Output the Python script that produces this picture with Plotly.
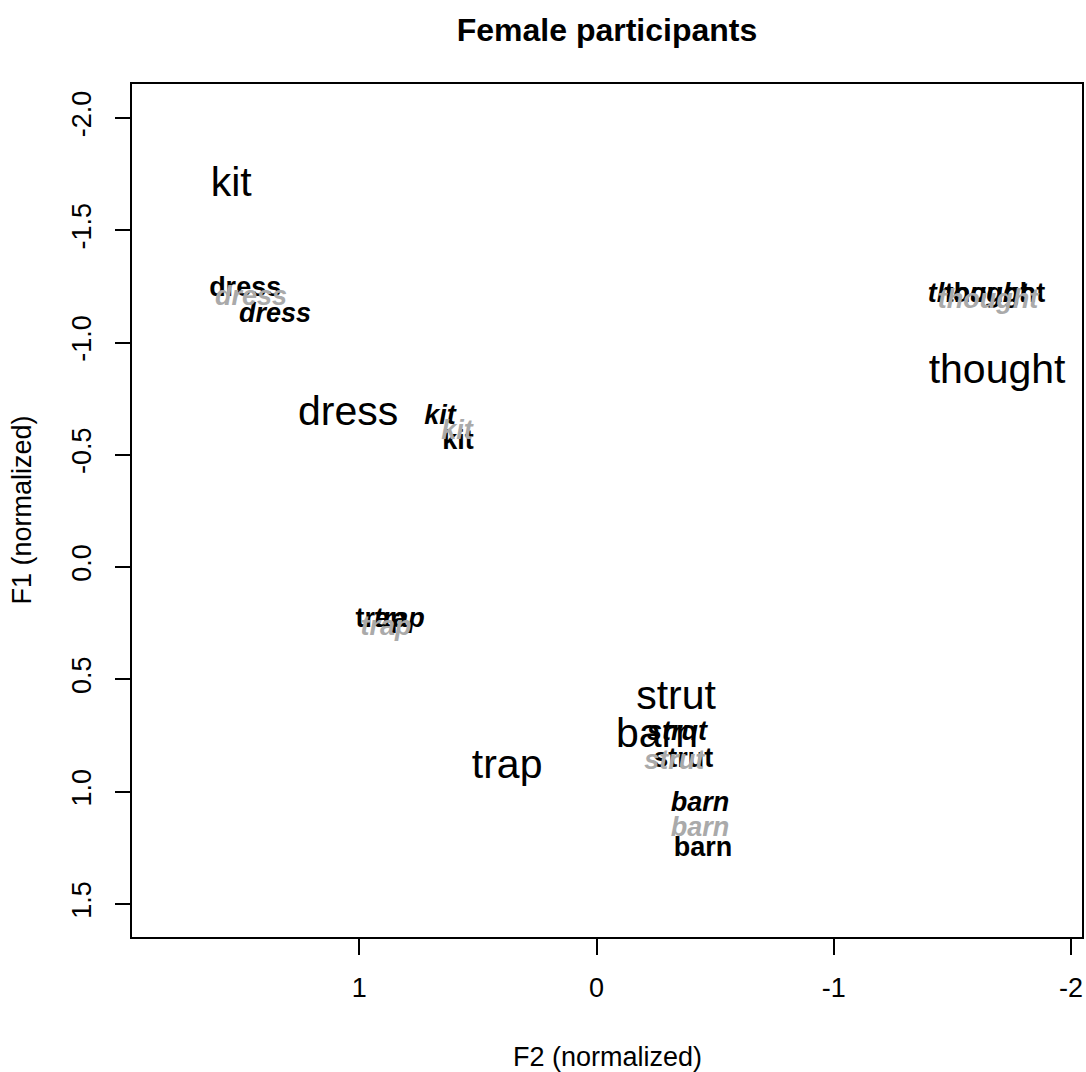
import plotly.graph_objects as go

# ---- data ----
vowels = ["kit", "dress", "trap", "strut", "barn", "thought"]

# large plain labels
plain_f2 = [1.540, 1.047, 0.377, -0.335, -0.255, -1.688]
plain_f1 = [-1.700, -0.678, 0.894, 0.587, 0.754, -0.867]

# black bold labels
bold_f2 = [0.584, 1.481, 0.908, -0.365, -0.449, -1.679]
bold_f1 = [-0.557, -1.236, 0.235, 0.859, 1.255, -1.212]

# black bold italic labels
bital_f2 = [0.660, 1.355, 0.832, -0.339, -0.436, -1.608]
bital_f1 = [-0.669, -1.121, 0.235, 0.738, 1.054, -1.212]

# grey bold italic labels
gital_f2 = [0.588, 1.456, 0.887, -0.327, -0.436, -1.650]
gital_f1 = [-0.602, -1.198, 0.271, 0.867, 1.166, -1.185]

x_ticks = [1, 0, -1, -2]
x_tick_text = ["1", "0", "-1", "-2"]
y_ticks = [-2.0, -1.5, -1.0, -0.5, 0.0, 0.5, 1.0, 1.5]
y_tick_text = ["-2.0", "-1.5", "-1.0", "-0.5", "0.0", "0.5", "1.0", "1.5"]

FONT = "Liberation Sans, Arial, Helvetica, sans-serif"
GREY = "#AAAAAA"

fig = go.Figure()


def add_labels(xs, ys, size, color, weight, style):
    fig.add_trace(go.Scatter(
        x=xs, y=ys, text=vowels, mode="text",
        textposition="middle center",
        textfont=dict(family=FONT, size=size, color=color, weight=weight, style=style),
        hoverinfo="skip", showlegend=False,
    ))


add_labels(plain_f2, plain_f1, 41, "black", "normal", "normal")
add_labels(bold_f2, bold_f1, 27, "black", "bold", "normal")
add_labels(bital_f2, bital_f1, 27, "black", "bold", "italic")
add_labels(gital_f2, gital_f1, 27, GREY, "bold", "italic")

W, H = 1086, 1072
L, R, T, B = 132, 4, 84, 135

fig.update_layout(
    width=W, height=H,
    margin=dict(l=L, r=R, t=T, b=B, pad=0),
    paper_bgcolor="white", plot_bgcolor="white",
    font=dict(family=FONT, size=27, color="black"),
    title=dict(text="<b>Female participants</b>", x=0.5, xref="paper",
               y=1 - 30 / H, yref="container", xanchor="center", yanchor="middle",
               font=dict(family=FONT, size=32, color="black")),
    xaxis=dict(range=[1.958, -2.046], tickvals=x_ticks, ticktext=x_tick_text,
               ticks="outside", ticklen=16, tickwidth=1.5, tickcolor="black",
               showline=True, linecolor="black", linewidth=1.5, mirror=True,
               showgrid=False, zeroline=False, automargin=False,
               tickfont=dict(family=FONT, size=27, color="black"),
               ticklabelstandoff=10),
    yaxis=dict(range=[1.647, -2.151], tickvals=y_ticks, ticktext=y_tick_text,
               ticks="outside", ticklen=15, tickwidth=1.5, tickcolor="black",
               tickangle=-90,
               showline=True, linecolor="black", linewidth=1.5, mirror=True,
               showgrid=False, zeroline=False, automargin=False,
               tickfont=dict(family=FONT, size=27, color="black"),
               ticklabelstandoff=13),
    annotations=[
        dict(text="F2 (normalized)", xref="paper", yref="paper", x=0.5, y=0,
             xanchor="center", yanchor="middle", yshift=-120, showarrow=False,
             font=dict(family=FONT, size=27, color="black")),
        dict(text="F1 (normalized)", xref="paper", yref="paper", x=0, y=0.5,
             xanchor="center", yanchor="middle", xshift=-111, textangle=-90,
             showarrow=False, font=dict(family=FONT, size=27, color="black")),
    ],
)

fig.write_html("out.html", config={"displayModeBar": False},
               post_script="document.body.style.margin='0px';")
